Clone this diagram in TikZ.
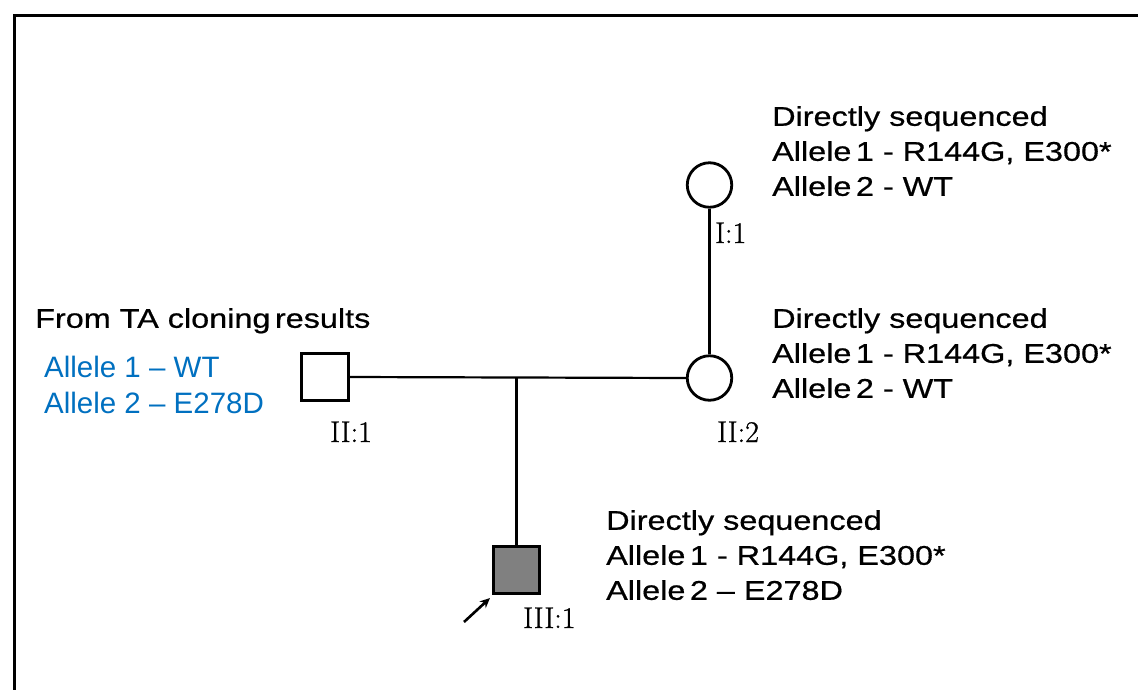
\documentclass[tikz,border=0pt]{standalone}
\usepackage{fontspec}
\newfontfamily\sfwide[FakeStretch=1.2,FakeBold=0.6]{Liberation Sans}
\newfontfamily\sfnorm{Liberation Sans}
\newfontfamily\lmdark[FakeBold=0.9]{Latin Modern Roman}
\usetikzlibrary{arrows.meta}
\definecolor{pptblue}{RGB}{0,112,192}
\definecolor{affgray}{RGB}{128,128,128}
\tikzset{
  male/.style={draw, line width=3.2pt, minimum size=46.5pt, inner sep=0pt, rectangle},
  female/.style={draw, line width=2.8pt, minimum size=44.5pt, inner sep=0pt, circle},
  conn/.style={line width=2.2pt},
  idlabel/.style={anchor=base west, inner sep=0pt, font=\lmdark\fontsize{30}{34}\selectfont},
  info/.style={anchor=north west, inner sep=0pt, align=left, font=\sfwide\fontsize{27}{35}\selectfont},
  bluinfo/.style={anchor=north west, inner sep=0pt, align=left, text=pptblue, font=\sfnorm\fontsize{29.5}{36}\selectfont},
}
\begin{document}
\begin{tikzpicture}[x=1pt,y=-1pt]
\useasboundingbox (0,0) rectangle (1138,689);
\clip (0,0) rectangle (1138,689);
\fill[white] (0,0) rectangle (1138,689);
% frame
\draw[line width=3pt] (14,700) -- (14,15.5) -- (1150,15.5);
% individuals
\node[female] (I1) at (709.5,185) {};
\node[male] (II1) at (325,377) {};
\node[female] (II2) at (709.5,378) {};
\node[male, fill=affgray] (III1) at (516.5,570) {};
\coordinate (mate) at (516.5,377.5);
% connectors
\draw[conn] (I1) -- (II2);
\draw[conn] (II1.east) -- (II2.west);
\draw[conn] (mate) -- (III1.north);
\coordinate (arrTail) at (464,622);
\coordinate (arrHead) at (490,598);
\draw[line width=2.6pt, -{Stealth[length=10pt,width=9pt]}] (arrTail) -- (arrHead);
% id labels
\node[idlabel] (lI1) at (715,243) {I:1};
\node[idlabel] (lII1) at (330,442) {II:1};
\node[idlabel] (lII2) at (717,442) {II:2};
\node[idlabel] (lIII1) at (523,628) {III:1};
% info texts
\node[info] (tI1) at (772,106) {Directly sequenced\\Allele\,1 - R144G, E300*\\Allele\,2 - WT};
\node[info] (tII2) at (772,308) {Directly sequenced\\Allele\,1 - R144G, E300*\\Allele\,2 - WT};
\node[info] (tIII1) at (606,510) {Directly sequenced\\Allele\,1 - R144G, E300*\\Allele\,2 – E278D};
\node[info] (tII1) at (35,308) {From TA cloning\,results};
\node[bluinfo] (bII1) at (44,356) {Allele 1 – WT\\Allele 2 – E278D};
\end{tikzpicture}
\end{document}
